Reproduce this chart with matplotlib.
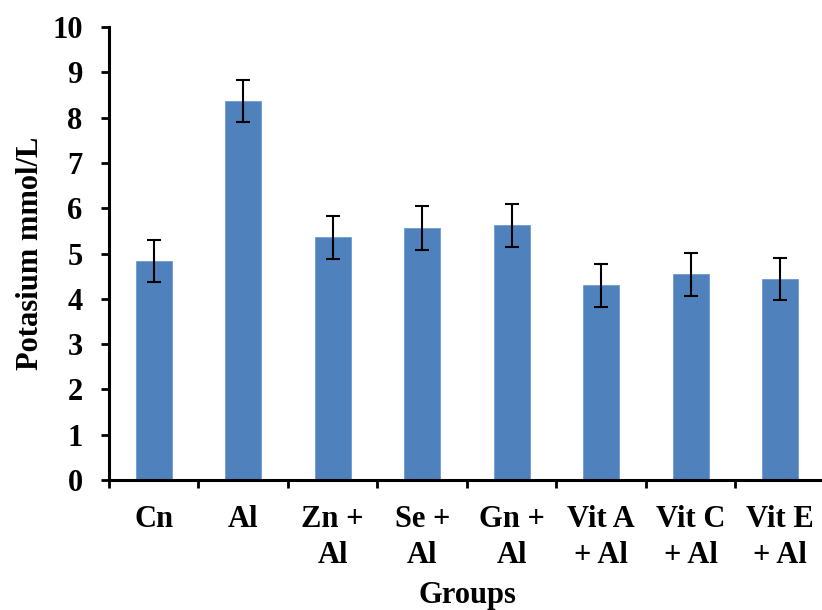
import matplotlib
matplotlib.use("Agg")
import matplotlib.pyplot as plt
import numpy as np

groups = ["Cn", "Al", "Zn +\nAl", "Se +\nAl", "Gn +\nAl", "Vit A\n+ Al", "Vit C\n+ Al", "Vit E\n+ Al"]
potassium = [4.84, 8.36, 5.36, 5.56, 5.62, 4.30, 4.54, 4.44]
errors = [0.46, 0.46, 0.47, 0.48, 0.47, 0.47, 0.47, 0.46]

plt.rcParams["font.family"] = ["Liberation Serif", "DejaVu Serif"]
plt.rcParams["font.weight"] = "bold"

fig = plt.figure(figsize=(8.22, 6.10), dpi=100)
ax = fig.add_axes([0.1326, 0.213, 0.871, 0.7427])

x = np.arange(len(groups))
ax.bar(x, potassium, width=0.4, color="#4F81BD", edgecolor="#6F9AD0", linewidth=0.6,
       yerr=errors, capsize=5, error_kw={"elinewidth": 1.5, "capthick": 1.5, "ecolor": "black"})

ax.set_xlim(-0.5, len(groups) - 0.5)
ax.set_ylim(0, 10)
ax.set_yticks(range(0, 11))
ax.tick_params(axis="y", labelsize=22, width=2, length=6, pad=13)

ax.set_xticks(np.arange(-0.5, len(groups), 1.0))
ax.set_xticklabels([])
ax.tick_params(axis="x", which="major", width=2, length=6)
ax.set_xticks(x, minor=True)
ax.set_xticklabels(groups, minor=True, fontsize=22, linespacing=1.3)
ax.tick_params(axis="x", which="minor", length=0, pad=18)
for lbl in ax.get_yticklabels() + ax.get_xticklabels(minor=True):
    lbl.set_fontweight("bold")

for side in ["top", "right"]:
    ax.spines[side].set_visible(False)
for side in ["left", "bottom"]:
    ax.spines[side].set_linewidth(2.2)

ax.set_ylabel("Potasium mmol/L", fontsize=22, fontweight="bold", labelpad=5)
ax.set_xlabel("Groups", fontsize=22, fontweight="bold", labelpad=8)

fig.savefig("out.png", dpi=100)
